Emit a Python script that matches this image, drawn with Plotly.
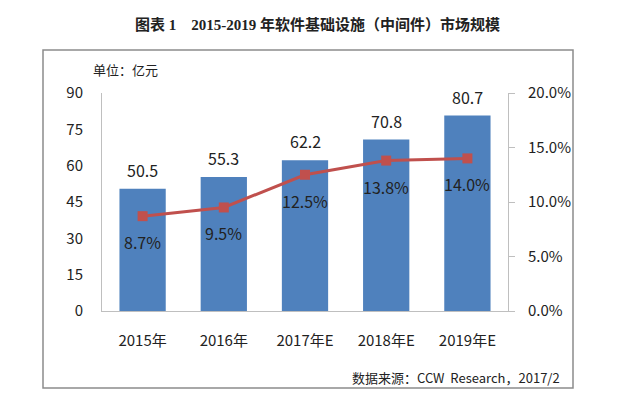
import plotly.graph_objects as go

categories = ["2015年", "2016年", "2017年E", "2018年E", "2019年E"]
market_size = [50.5, 55.3, 62.2, 70.8, 80.7]
growth_rate = [0.087, 0.095, 0.125, 0.138, 0.140]
left_ticks = [0, 15, 30, 45, 60, 75, 90]
right_ticks = [0, 0.05, 0.10, 0.15, 0.20]

FONT = "Noto Sans CJK SC, Open Sans, sans-serif"
TXT = "#222222"

L, R, T, B = 94.0, 500.0, 85.0, 303.0
W, H = 619, 401
pw, ph = R - L, B - T

fig = go.Figure()
fig.add_trace(go.Bar(
    x=categories, y=market_size, marker=dict(color="#4F81BD", line=dict(width=0)),
    width=0.57, showlegend=False, hoverinfo="skip"))
fig.add_trace(go.Scatter(
    x=categories, y=growth_rate, yaxis="y2", mode="lines+markers",
    line=dict(color="#C0504D", width=3),
    marker=dict(symbol="square", size=10, color="#C0504D"),
    showlegend=False, hoverinfo="skip"))

anns = []
for c, v in zip(categories, market_size):
    anns.append(dict(x=c, y=v, xref="x", yref="y", text=f"{v:.1f}", showarrow=False,
                     yshift=19, font=dict(size=16, color=TXT, family=FONT)))
for c, g in zip(categories, growth_rate):
    anns.append(dict(x=c, y=g, xref="x", yref="y2", text=f"{g*100:.1f}%", showarrow=False,
                     yshift=-26, font=dict(size=16, color=TXT, family=FONT)))

def px(x):
    return (x - L) / pw
def py(y):
    return (B - y) / ph

anns.append(dict(x=px(83), y=py(61), xref="paper", yref="paper", xanchor="left", yanchor="middle",
                 text="单位：亿元", showarrow=False, font=dict(size=13, color=TXT, family=FONT)))
anns.append(dict(x=px(554), y=py(369), xref="paper", yref="paper", xanchor="right", yanchor="middle",
                 text="数据来源：CCW  Research，2017/2", showarrow=False,
                 font=dict(size=13, color=TXT, family=FONT)))

fig.update_layout(
    width=W, height=H,
    margin=dict(l=L, r=W - R, t=T, b=H - B, pad=0),
    paper_bgcolor="white", plot_bgcolor="white",
    title=dict(text="<b>图表 1　2015-2019 年软件基础设施（中间件）市场规模</b>",
               x=0.5, xanchor="center", y=1 - 17 / H, yanchor="middle", yref="container",
               font=dict(size=15, color="#222222", family="Liberation Serif, Noto Sans CJK SC, serif")),
    xaxis=dict(showline=True, linecolor="#BFBFBF", linewidth=1, ticks="",
               tickfont=dict(size=15, color=TXT, family=FONT), ticklabelstandoff=16,
               showgrid=False, zeroline=False),
    yaxis=dict(range=[0, 90], tickvals=left_ticks, showline=True, linecolor="#BFBFBF", linewidth=1,
               ticks="", showgrid=False, zeroline=False, ticklabelstandoff=15,
               tickfont=dict(size=15, color=TXT, family=FONT)),
    yaxis2=dict(range=[0, 0.2], tickvals=right_ticks, tickformat=".1%", overlaying="y", side="right",
                showline=True, linecolor="#BFBFBF", linewidth=1, ticks="outside", ticklen=6,
                tickcolor="#BFBFBF", showgrid=False, zeroline=False, ticklabelstandoff=10,
                tickfont=dict(size=15, color=TXT, family=FONT)),
    annotations=anns,
    shapes=[dict(type="rect", xref="paper", yref="paper", x0=px(35), x1=px(565), y0=py(380), y1=py(42),
                 line=dict(color="#8C8C8C", width=1.5), layer="below")],
)

fig.write_html("out.html")
